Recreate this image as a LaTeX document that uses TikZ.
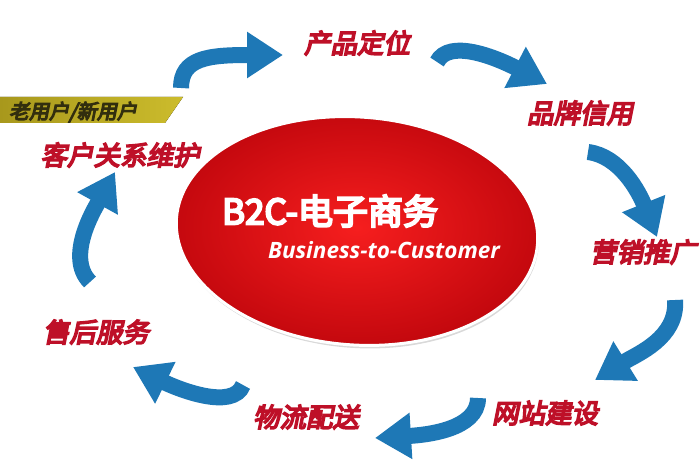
\documentclass[tikz,border=0pt]{standalone}
\usepackage{fontspec}
\newfontfamily\cjkheavy{Noto Sans CJK SC}[FakeBold=6]
\newfontfamily\cjkslant{Noto Sans CJK SC}[FakeBold=6,FakeSlant=0.2]
\newfontfamily\opensans{Open Sans}
\usepackage{xcolor}
\usepackage{tikz}
\usetikzlibrary{arrows.meta,shapes.geometric,shadows}
\definecolor{arrowblue}{RGB}{30,120,182}
\definecolor{labelred}{RGB}{190,16,40}
\definecolor{coreinner}{RGB}{246,30,30}
\definecolor{coreouter}{RGB}{196,8,14}
\definecolor{bannerdark}{RGB}{168,152,28}
\definecolor{bannerlight}{RGB}{204,188,44}
\definecolor{bannertext}{RGB}{50,46,14}
\tikzset{
%%%%%%%%%%  Node styles
core/.style={ellipse, minimum width=362pt, minimum height=228pt, rotate=-4,
             draw=white, line width=3pt,
             inner color=coreinner, outer color=coreouter,
             drop shadow={shadow xshift=1pt, shadow yshift=-3pt, opacity=0.3}},
title/.style={text=white, inner sep=0pt,
              font=\cjkheavy\fontsize{35}{40}\selectfont},
subtitle/.style={text=white, inner sep=0pt,
                 font=\opensans\bfseries\itshape\fontsize{22.5}{26}\selectfont},
stage/.style={text=labelred, inner sep=0pt,
              font=\cjkslant\fontsize{26.5}{30}\selectfont},
tagtext/.style={text=bannertext, inner sep=0pt,
                font=\cjkslant\fontsize{20}{24}\selectfont},
%%%%%%% Fill styles
banner/.style={left color=bannerdark, right color=bannerlight},
%%%%%%% the thick bent arrows
cyclearrow/.style={draw=arrowblue, line width=16pt,
                   -{Triangle[width=44pt,length=36pt]}}
}

\begin{document}
\begin{tikzpicture}[x=1pt,y=-1pt]
\useasboundingbox (0,0) rectangle (700,470);
%%centre
\node[core] (bcore) at (357,231) {};
\node[title] (btitle) at (330,211) {B2C-电子商务};
\node[subtitle] (bsub) at (384,250) {Business-to-Customer};
%%banner
\fill[banner] (0,97) -- (183,97) -- (165,123) -- (0,123) -- cycle;
\node[tagtext] (users) at (73,112) {老用户/新用户};
%%stages
\node[stage] (pos) at (357,43) {产品定位};
\node[stage] (brand) at (580,113) {品牌信用};
\node[stage] (promo) at (643,252) {营销推广};
\node[stage] (site) at (545,413) {网站建设};
\node[stage] (ship) at (306,417) {物流配送};
\node[stage] (after) at (96,332) {售后服务};
\node[stage] (crm) at (120,155) {客户关系维护};
%%arrow ends
\coordinate (a1s) at (181,88);  \coordinate (a1e) at (283,55);
\coordinate (a2s) at (437,62);  \coordinate (a2e) at (547,84);
\coordinate (a3s) at (588,152); \coordinate (a3e) at (657,237);
\coordinate (a4s) at (675,300); \coordinate (a4e) at (595,380);
\coordinate (a5s) at (478,398); \coordinate (a5e) at (375,438);
\coordinate (a6s) at (243,385); \coordinate (a6e) at (133,367);
\coordinate (a7s) at (90,282);  \coordinate (a7e) at (115,172);
%%arrows round the cycle
\draw[cyclearrow] (a1s) .. controls +(0,-30) and +(-75,0) .. (a1e);
\draw[cyclearrow] (a2s) .. controls +(12,-24) and +(-50,-26) .. (a2e);
\draw[cyclearrow] (a3s) .. controls +(32,4) and +(-18,-45) .. (a3e);
\draw[cyclearrow] (a4s) .. controls +(3,38) and +(42,-26) .. (a4e);
\draw[cyclearrow] (a5s) .. controls +(0,32) and +(50,-3) .. (a5e);
\draw[cyclearrow] (a6s) .. controls +(-10,26) and +(45,22) .. (a6e);
\draw[cyclearrow] (a7s) .. controls +(-25,-25) and +(-20,36) .. (a7e);
\end{tikzpicture}
\end{document}
